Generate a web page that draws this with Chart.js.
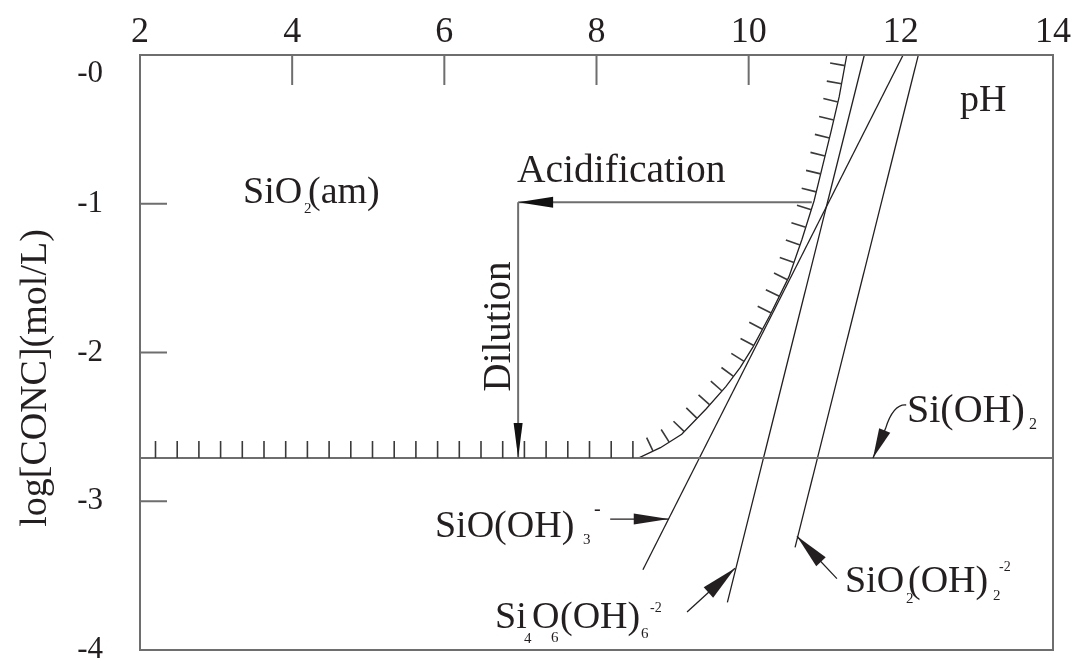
<!DOCTYPE html>
<html>
<head>
<meta charset="utf-8">
<script src="https://cdn.jsdelivr.net/npm/chart.js@4/dist/chart.umd.min.js"></script>
<style>
  html, body { margin: 0; background: #fff; }
</style>
</head>
<body>
<canvas id="myChart" width="1076" height="666"></canvas>
<script>
// tick labels
const xTicks = [2, 4, 6, 8, 10, 12, 14];
const yTicks = [-4, -3, -2, -1, 0];
const xTickMarks = [4, 6, 8, 10];
const yTickMarks = [-1, -2, -3];

// Si(OH)4 level (amorphous silica solubility)
const siOH4PH = [2, 14];
const siOH4Log = [-2.71, -2.71];

// hatched boundary of SiO2(am)
const boundaryPH = [2.0, 8.55, 8.84, 9.12, 9.44, 9.70, 9.89, 10.06, 10.28, 10.53, 10.70, 10.86, 10.96, 11.08, 11.19, 11.29];
const boundaryLog = [-2.71, -2.71, -2.64, -2.55, -2.38, -2.23, -2.10, -1.96, -1.75, -1.49, -1.24, -0.98, -0.77, -0.52, -0.28, 0];

// species lines
const sioOH3PH = [8.61, 12.03];
const sioOH3Log = [-3.46, 0];
const si4PH = [9.72, 11.52];
const si4Log = [-3.68, 0];
const sio2OH2PH = [10.61, 12.23];
const sio2OH2Log = [-3.31, 0];

const ink = "#231f20";
const gray = "#6e6e6e";
const serif = "'Liberation Serif', 'Times New Roman', serif";

const toPts = (xs, ys) => xs.map((x, i) => ({ x: x, y: ys[i] }));

// arrows: from, to (data units), head length, head width, optional curve control + bend point
const arrows = [
  { from: [10.83, -0.99], to: [6.97, -0.99], head: 35, width: 11, color: gray, lw: 2 },
  { from: [6.97, -0.99], to: [6.97, -2.71], head: 35, width: 9, color: gray, lw: 2 },
  { from: [8.18, -3.12], to: [8.95, -3.12], head: 35, width: 11, color: ink, lw: 1.3 },
  { from: [9.19, -3.745], to: [9.82, -3.45], head: 36, width: 14, color: ink, lw: 1.3 },
  { from: [11.16, -3.52], to: [10.635, -3.235], head: 35, width: 13, color: ink, lw: 1.3 },
  { from: [12.07, -2.353], ctrl: [11.90, -2.346], bend: [11.80, -2.51], to: [11.634, -2.71], head: 30, width: 12, color: ink, lw: 1.3 },
];

// text runs: [text, dx, dy, size]
const labels = [
  { at: [3.354, -0.995], runs: [["SiO", 0, 0, 38], ["2", 61, 10, 15], ["(am)", 65, 0, 38]] },
  { at: [6.955, -0.854], runs: [["Acidification", 0, 0, 39.5]] },
  { at: [12.778, -0.376], runs: [["pH", 0, 0, 38]] },
  { at: [6.863, -1.825], rotate: true, runs: [["Dilution", 0, 0, 39]] },
  { at: [12.081, -2.467], runs: [["Si(OH)", 0, 0, 40], ["2", 122, 7, 16]] },
  { at: [5.877, -3.24], runs: [["SiO(OH)", 0, 0, 38], ["3", 148, 7, 15], ["-", 159, -22, 20]] },
  { at: [6.666, -3.852], runs: [["Si", 0, 0, 38], ["4", 29, 15, 15], ["O", 37, 0, 38], ["6", 56, 14, 15], ["(OH)", 65, 0, 38], ["6", 146, 10, 15], ["-2", 155, -16, 14]] },
  { at: [11.266, -3.61], runs: [["SiO", 0, 0, 38], ["2", 61, 11, 15], ["(OH)", 63, 0, 38], ["2", 148, 8, 15], ["-2", 154, -21, 14]] },
];

const drawHead = (ctx, tx, ty, ux, uy, len, w) => {
  const bx = tx - ux * len, by = ty - uy * len;
  ctx.beginPath();
  ctx.moveTo(tx, ty);
  ctx.lineTo(bx - uy * w / 2, by + ux * w / 2);
  ctx.lineTo(bx + uy * w / 2, by - ux * w / 2);
  ctx.closePath();
  ctx.fill();
};

const decorPlugin = {
  id: "decor",
  afterDatasetsDraw(chart) {
    const ctx = chart.ctx;
    const xs = chart.scales.x, ys = chart.scales.y;
    const a = chart.chartArea;
    const px = (p) => [xs.getPixelForValue(p[0]), ys.getPixelForValue(p[1])];
    ctx.save();

    // frame + inward ticks
    ctx.strokeStyle = gray;
    ctx.lineWidth = 2;
    ctx.strokeRect(a.left, a.top, a.right - a.left, a.bottom - a.top);
    ctx.beginPath();
    xTickMarks.forEach((v) => {
      const x = xs.getPixelForValue(v);
      ctx.moveTo(x, a.top);
      ctx.lineTo(x, a.top + 30);
    });
    yTickMarks.forEach((v) => {
      const y = ys.getPixelForValue(v);
      ctx.moveTo(a.left, y);
      ctx.lineTo(a.left + 27, y);
    });
    ctx.stroke();

    // hatches along the boundary, on its SiO2(am) side
    const pts = chart.getDatasetMeta(1).data.map((p) => ({ x: p.x, y: p.y }));
    ctx.strokeStyle = "#3a3a3a";
    ctx.lineWidth = 1.6;
    ctx.beginPath();
    let next = 15.5, acc = 0;
    for (let i = 1; i < pts.length; i++) {
      const p0 = pts[i - 1], p1 = pts[i];
      const dx = p1.x - p0.x, dy = p1.y - p0.y;
      const len = Math.hypot(dx, dy);
      const ux = dx / len, uy = dy / len;
      const flat = Math.abs(uy) < 0.1;
      const step = flat ? 21.7 : 18.5;
      const hl = flat ? 17 : 15;
      while (next <= acc + len) {
        const t = next - acc;
        const hx = p0.x + ux * t, hy = p0.y + uy * t;
        ctx.moveTo(hx, hy);
        ctx.lineTo(hx + uy * hl, hy - ux * hl);
        next += step;
      }
      acc += len;
    }
    ctx.stroke();

    // arrows
    arrows.forEach((ar) => {
      const f = px(ar.from), t = px(ar.to);
      ctx.strokeStyle = ar.color;
      ctx.fillStyle = ar.color === gray ? "#111" : ink;
      ctx.lineWidth = ar.lw;
      ctx.beginPath();
      ctx.moveTo(f[0], f[1]);
      let last = f;
      if (ar.ctrl) {
        const c = px(ar.ctrl), b = px(ar.bend);
        ctx.quadraticCurveTo(c[0], c[1], b[0], b[1]);
        last = b;
      }
      ctx.lineTo(t[0], t[1]);
      ctx.stroke();
      const L = Math.hypot(t[0] - last[0], t[1] - last[1]);
      drawHead(ctx, t[0], t[1], (t[0] - last[0]) / L, (t[1] - last[1]) / L, ar.head, ar.width);
    });

    // labels
    ctx.fillStyle = ink;
    ctx.textBaseline = "alphabetic";
    ctx.textAlign = "left";
    labels.forEach((lb) => {
      const p = px(lb.at);
      ctx.save();
      ctx.translate(p[0], p[1]);
      if (lb.rotate) {
        ctx.rotate(-Math.PI / 2);
        ctx.textAlign = "center";
      }
      lb.runs.forEach((r) => {
        ctx.font = r[3] + "px " + serif;
        ctx.fillText(r[0], r[1], r[2]);
      });
      ctx.restore();
    });

    // axis title
    ctx.save();
    ctx.translate(a.left - 94, 378);
    ctx.rotate(-Math.PI / 2);
    ctx.textAlign = "center";
    ctx.font = "38px " + serif;
    ctx.fillText("log[CONC](mol/L)", 0, 0);
    ctx.restore();

    ctx.restore();
  },
};

const lineSet = (data, color, width) => ({
  data: data,
  showLine: true,
  borderColor: color,
  borderWidth: width,
  pointRadius: 0,
  fill: false,
  tension: 0,
});

const config = {
  type: "scatter",
  data: {
    datasets: [
      lineSet(toPts(siOH4PH, siOH4Log), gray, 2),
      lineSet(toPts(boundaryPH, boundaryLog), ink, 1.3),
      lineSet(toPts(sioOH3PH, sioOH3Log), ink, 1.3),
      lineSet(toPts(si4PH, si4Log), ink, 1.3),
      lineSet(toPts(sio2OH2PH, sio2OH2Log), ink, 1.3),
    ],
  },
  options: {
    responsive: false,
    animation: false,
    devicePixelRatio: 1,
    layout: { padding: { left: 0, right: 23, top: 0, bottom: 16 } },
    plugins: { legend: { display: false }, tooltip: { enabled: false } },
    scales: {
      x: {
        type: "linear",
        position: "top",
        min: 2,
        max: 14,
        afterBuildTicks: (s) => { s.ticks = xTicks.map((v) => ({ value: v })); },
        afterFit: (s) => { s.height = 55; s.paddingLeft = 0; s.paddingRight = 0; },
        grid: { display: false, drawTicks: false },
        border: { display: false },
        ticks: { autoSkip: false, maxRotation: 0, padding: 1, color: ink, font: { family: serif, size: 36 } },
      },
      y: {
        type: "linear",
        min: -4,
        max: 0,
        afterBuildTicks: (s) => { s.ticks = yTicks.map((v) => ({ value: v })); },
        afterFit: (s) => { s.width = 140; s.paddingTop = 0; s.paddingBottom = 0; },
        grid: { display: false, drawTicks: false },
        border: { display: false },
        ticks: {
          autoSkip: false,
          padding: 37,
          color: ink,
          font: { family: serif, size: 31 },
          callback: (v) => (v === 0 ? ["", "-0"] : String(v)),
        },
      },
    },
  },
  plugins: [decorPlugin],
};

const myChart = new Chart(document.getElementById("myChart"), config);
</script>
</body>
</html>
